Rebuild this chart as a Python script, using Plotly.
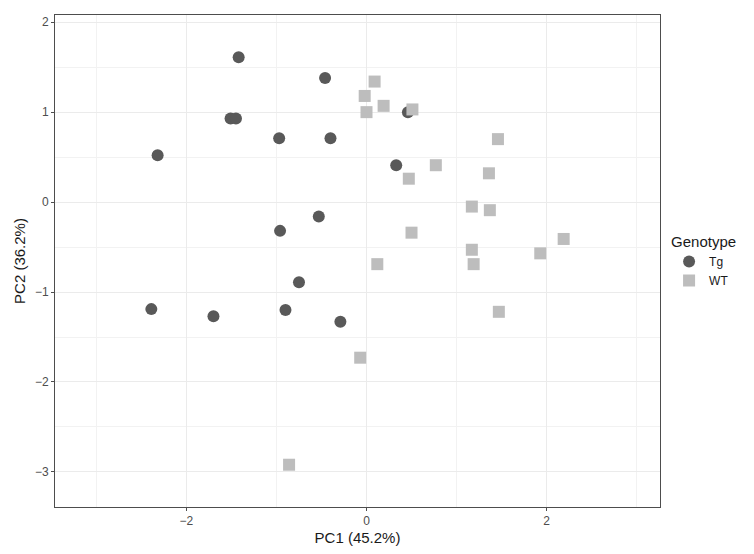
import plotly.graph_objects as go

# PCA scores
tg_pc1 = [-1.42, -0.46, -1.51, -1.45, -0.97, -0.40, -2.32, -0.53, -0.96,
          0.33, 0.46, -0.75, -2.39, -1.70, -0.90, -0.29]
tg_pc2 = [1.61, 1.38, 0.93, 0.93, 0.71, 0.71, 0.52, -0.16, -0.32,
          0.41, 1.00, -0.89, -1.19, -1.27, -1.20, -1.33]

wt_pc1 = [0.09, -0.02, 0.00, 0.19, 0.51, 1.46, 0.77, 0.47, 1.36, 1.17,
          1.37, 0.50, 2.19, 1.93, 1.17, 1.19, 0.12, 1.47, -0.07, -0.86]
wt_pc2 = [1.34, 1.18, 1.00, 1.07, 1.03, 0.70, 0.41, 0.26, 0.32, -0.05,
          -0.09, -0.34, -0.41, -0.57, -0.53, -0.69, -0.69, -1.22, -1.73, -2.92]

FONT = "Liberation Sans, Arial, sans-serif"

fig = go.Figure()
fig.add_trace(go.Scatter(
    x=tg_pc1, y=tg_pc2, mode="markers", name="Tg",
    marker=dict(symbol="circle", size=12, color="#595959"),
))
fig.add_trace(go.Scatter(
    x=wt_pc1, y=wt_pc2, mode="markers", name="WT",
    marker=dict(symbol="square", size=12, color="#bdbdbd"),
))

axis_common = dict(
    showline=True, linecolor="#4d4d4d", linewidth=1, mirror=True,
    showgrid=True, gridcolor="#ebebeb", gridwidth=1,
    zeroline=False,
    ticks="outside", ticklen=3, tickcolor="#4d4d4d", tickwidth=1,
    tickfont=dict(family=FONT, size=12, color="#4d4d4d"),
    title_font=dict(family=FONT, size=15, color="#1a1a1a"),
)

fig.update_xaxes(
    range=[-3.46, 3.26], dtick=2, tick0=0,
    minor=dict(dtick=1, tick0=0, showgrid=True, gridcolor="#f2f2f2", gridwidth=1),
    title_text="PC1 (45.2%)", title_standoff=5,
    **axis_common,
)
fig.update_yaxes(
    range=[-3.39, 2.08], dtick=1, tick0=0,
    minor=dict(dtick=0.5, tick0=0, showgrid=True, gridcolor="#f2f2f2", gridwidth=1),
    title_text="PC2 (36.2%)", title_standoff=5,
    **axis_common,
)

# the page body adds an 8px offset, so the figure is sized to fit inside it
fig.update_layout(
    width=746, height=546,
    margin=dict(l=47, r=94, t=7, b=47),
    plot_bgcolor="white", paper_bgcolor="white",
    font=dict(family=FONT),
    showlegend=True,
    legend=dict(
        title=dict(text="Genotype", font=dict(family=FONT, size=15, color="#1a1a1a")),
        font=dict(family=FONT, size=12, color="#1a1a1a"),
        x=1.015, xanchor="left", y=0.568, yanchor="top",
        tracegroupgap=0, itemsizing="constant", itemwidth=30,
        bgcolor="rgba(0,0,0,0)",
    ),
)

fig.write_html("out.html")
